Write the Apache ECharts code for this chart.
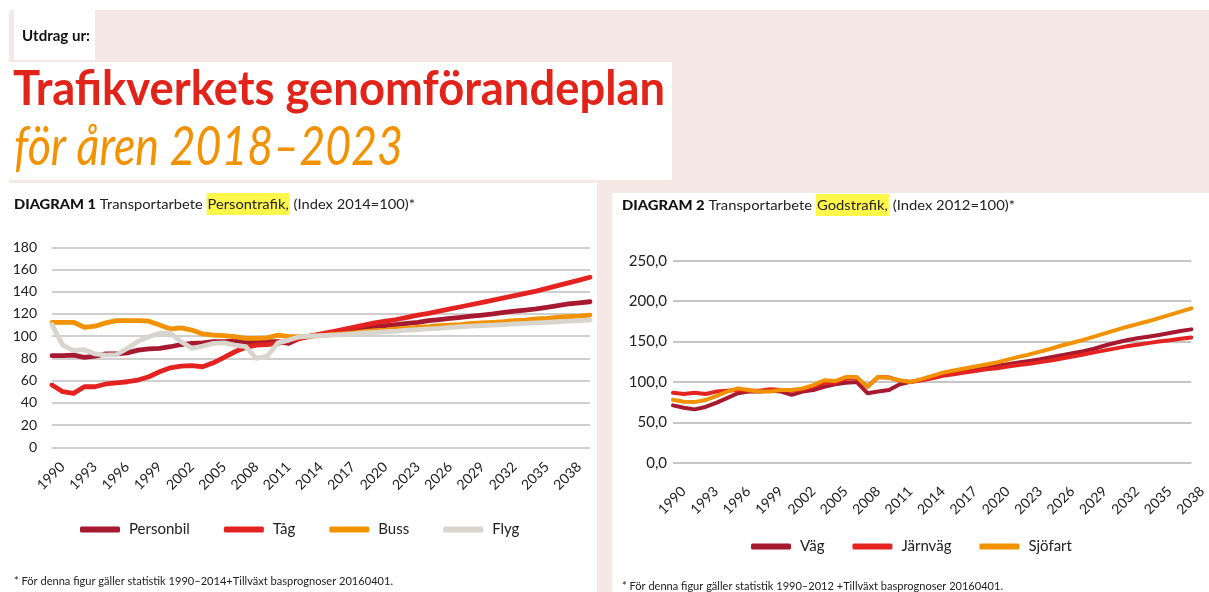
<!DOCTYPE html>
<html><head><meta charset="utf-8">
<script src="https://cdn.jsdelivr.net/npm/echarts@6/dist/echarts.min.js"></script>
<style>html,body{margin:0;padding:0;background:#fff}#c{width:1209px;height:592px}</style>
</head><body><div id="c"></div>
<script>
// ---------- DATA ----------
const years1 = ['1990','1991','1992','1993','1994','1995','1996','1997','1998','1999','2000','2001','2002','2003','2004','2005','2006','2007','2008','2009','2010','2011','2012','2013','2014','2015','2016','2017','2018','2019','2020','2021','2022','2023','2024','2025','2026','2027','2028','2029','2030','2031','2032','2033','2034','2035','2036','2037','2038','2039','2040'];
const personbil = [82.5,82.5,83,81,82,84,84,85,87.5,88.5,89,90.5,92.5,93.5,94,95,95,95.5,94.5,94.5,95,95,93.5,98,100,
  101.5,103,104.5,106,107.5,108.5,109.5,110.5,111.5,112.5,114,115,116,117,118,119,120,121.5,122.5,123.5,124.5,126,127.5,129,130,131];
const tag = [56,50,48.5,54.5,54.5,57,58,59,60.5,63.5,68,71.5,73,73.5,72.5,76,81,86,90,92,92.5,93.5,96,98,100,
  102,104,106,108,110,112,113.5,115,117,119,120.5,122.5,124.5,126.5,128.5,130.5,132.5,134.5,136.5,138.5,140.5,143,145.5,148,150.5,153];
const buss = [112.5,112.5,112.5,108,109,112,114,114,114,113.5,110,106.5,107.5,105.5,102,101,100.5,99.5,98,98,98.5,101,99.5,99.5,100,
  100.5,101.5,102,103,104,105,105.5,106.5,107,108,108.5,109.5,110,110.5,111.5,112,112.5,113,114,114.5,115.5,116,117,117.5,118,119];
const flyg = [110.5,92,87,88,84,83,83.5,89,95.5,99.5,102.5,103,95,89,91,93.5,94,92,90.5,80,82,94,96.5,99.5,100,
  100.5,101,101.5,102,103,103.5,104,104.5,105.5,106,106.5,107,108,108.5,109,109.5,110,110.5,111,111.5,112,112.5,113,113.5,114,114.5];

const years2 = ['1990','1991','1992','1993','1994','1995','1996','1997','1998','1999','2000','2001','2002','2003','2004','2005','2006','2007','2008','2009','2010','2011','2012','2013','2014','2015','2016','2017','2018','2019','2020','2021','2022','2023','2024','2025','2026','2027','2028','2029','2030','2031','2032','2033','2034','2035','2036','2037','2038'];
const vag = [71,68,66,69,74,80,86,88,88,89,88,84,88,90,94,97,99,100,86,88,90,97,100,
  102.5,105.5,109,111.5,114,116,118,120,122,124,126,128,130.5,133,135.5,138,141,145,148.5,151.5,154,156,158,160.5,163,165];
const jarnvag = [86.5,85,86.5,85,88,89,90,89,89,91,90,89,91,94,99,99,104,105.5,94,106,105.5,101.5,100,
  102,104.5,107.5,109.5,111.5,113.5,115.5,117,119,121,122.5,124.5,126.5,129,131.5,134,136.5,139,141.5,144,146,148,150,151.5,153.5,155];
const sjofart = [78,75.5,75,77.5,82.5,88,92,90,88,88,90,90,92,96,102,101,106,106,94,106,105,102,100,
  103.5,107.5,111.5,114,116.5,119,121.5,124,127.5,131,134,137.5,141,145,148.5,152,156,160,164,168,171.5,175,179,183,187,191];

const names1 = ['Personbil','Tåg','Buss','Flyg'];
const names2 = ['Väg','Järnväg','Sjöfart'];

// ---------- STYLE ----------
const C_DARK = '#a6192e', C_RED = '#e42320', C_ORANGE = '#f39200', C_GREY = '#d8d5cf';
const PINK = '#f6e8e4';
const FONT = 'Lato, "Open Sans", sans-serif';

const cv = document.createElement('canvas').getContext('2d');
function tw(t, f){ cv.font = f; return cv.measureText(t).width; }

function fitText(text, x, y, font, fill, target, extra){
  const s = target / tw(text, font);
  return Object.assign({type:'text', x:x, y:y, scaleX:s, z:100,
    style:{text:text, font:font, fill:fill, textVerticalAlign:'middle', textAlign:'left'}}, extra||{});
}
function diagTitle(num, word, idx, x, y, target){
  const fb = '900 14px ' + FONT, fn = '14px ' + FONT;
  const rest1 = ' Transportarbete ', rest2 = ' (Index ' + idx + '=100)*';
  const nat = tw('DIAGRAM ' + num, fb) + tw(rest1 + word + rest2, fn) + 2;
  const s = target / nat;
  return {type:'text', x:x, y:y, scaleX:s, z:100,
    style:{text:'{b|DIAGRAM ' + num + '}{n|' + rest1 + '}{h|' + word + '}{n|' + rest2 + '}',
      textVerticalAlign:'middle', textAlign:'left',
      rich:{
        b:{font:fb, fill:'#111'},
        n:{font:fn, fill:'#222'},
        h:{font:fn, fill:'#222', backgroundColor:'#fff84a', padding:[4,1,4,1]}
      }}};
}

const graphics = [
  {type:'rect', z:-10, shape:{x:9,y:10,width:1200,height:582}, style:{fill:PINK}},
  {type:'rect', z:-9, shape:{x:14,y:10,width:81,height:50}, style:{fill:'#fff'}},
  {type:'rect', z:-9, shape:{x:8,y:62,width:664,height:118}, style:{fill:'#fff'}},
  {type:'rect', z:-9, shape:{x:0,y:183,width:597,height:409}, style:{fill:'#fff'}},
  {type:'rect', z:-9, shape:{x:612,y:193,width:597,height:399}, style:{fill:'#fff'}},
  fitText('Utdrag ur:', 22, 36, 'bold 15px ' + FONT, '#111', 68),
  fitText('Trafikverkets genomförandeplan', 13, 90, 'bold 48px ' + FONT, '#e2231a', 652),
  fitText('för åren 2018–2023', 14, 147, 'italic 55px ' + FONT, '#f39200', 389),
  diagTitle('1', 'Persontrafik,', '2014', 14, 204, 401),
  diagTitle('2', 'Godstrafik,', '2012', 622, 205, 393),
  fitText('* För denna figur gäller statistik 1990–2014+Tillväxt basprognoser 20160401.', 14, 581, '11px ' + FONT, '#222', 379),
  fitText('* För denna figur gäller statistik 1990–2012 +Tillväxt basprognoser 20160401.', 622, 586, '11px ' + FONT, '#222', 381)
];

function xAxis(gi, data, margin){
  return {type:'category', gridIndex:gi, data:data, boundaryGap:false,
    axisLine:{show:false}, axisTick:{show:false}, splitLine:{show:false},
    axisLabel:{interval:2, rotate:45, fontSize:14, color:'#222', fontFamily:FONT,
      margin:margin, align:'right', verticalAlign:'top', padding:[0,-8,0,0]}};
}
function lineSeries(name, data, color, xi, w){
  return {type:'line', name:name, data:data, xAxisIndex:xi, yAxisIndex:xi,
    symbol:'none', smooth:false, silent:true,
    lineStyle:{color:color, width:w, cap:'round', join:'round'},
    itemStyle:{color:color}, emphasis:{disabled:true}};
}

const option = {
  animation:false,
  backgroundColor:'#fff',
  textStyle:{fontFamily:FONT},
  graphic:graphics,
  grid:[
    {left:52, top:247.3, width:538, height:200},
    {left:673, top:260.7, width:532, height:202}
  ],
  xAxis:[xAxis(0, years1, 18), xAxis(1, years2, 27)],
  yAxis:[
    {type:'value', gridIndex:0, min:0, max:180, interval:20,
      axisLine:{show:false}, axisTick:{show:false},
      axisLabel:{fontSize:14, color:'#222', fontFamily:FONT, margin:15},
      splitLine:{show:true, lineStyle:{color:'#cfcfcf', width:2}}},
    {type:'value', gridIndex:1, min:0, max:250, interval:50,
      axisLine:{show:false}, axisTick:{show:false},
      axisLabel:{fontSize:15, color:'#222', fontFamily:FONT, margin:6,
        formatter:function(v){return v.toFixed(1).replace('.', ',');}},
      splitLine:{show:true, lineStyle:{color:'#c6c6c6', width:2}}}
  ],
  legend:[
    {data:names1, left:80, top:522, icon:'roundRect', itemWidth:40, itemHeight:6, itemGap:34,
      padding:0, textStyle:{fontSize:15, color:'#222', fontFamily:FONT, padding:[0,0,0,4]}, selectedMode:false},
    {data:names2, left:751, top:539, icon:'roundRect', itemWidth:40, itemHeight:6, itemGap:28,
      padding:0, textStyle:{fontSize:15, color:'#222', fontFamily:FONT, padding:[0,0,0,4]}, selectedMode:false}
  ],
  series:[
    lineSeries(names1[0], personbil, C_DARK, 0, 4.8),
    lineSeries(names1[1], tag, C_RED, 0, 4.8),
    lineSeries(names1[2], buss, C_ORANGE, 0, 4.8),
    lineSeries(names1[3], flyg, C_GREY, 0, 4.8),
    lineSeries(names2[0], vag, C_DARK, 1, 4),
    lineSeries(names2[1], jarnvag, C_RED, 1, 4),
    lineSeries(names2[2], sjofart, C_ORANGE, 1, 4)
  ]
};
const chart = echarts.init(document.getElementById('c'), null, {renderer:'canvas'});
chart.setOption(option);
</script></body></html>
